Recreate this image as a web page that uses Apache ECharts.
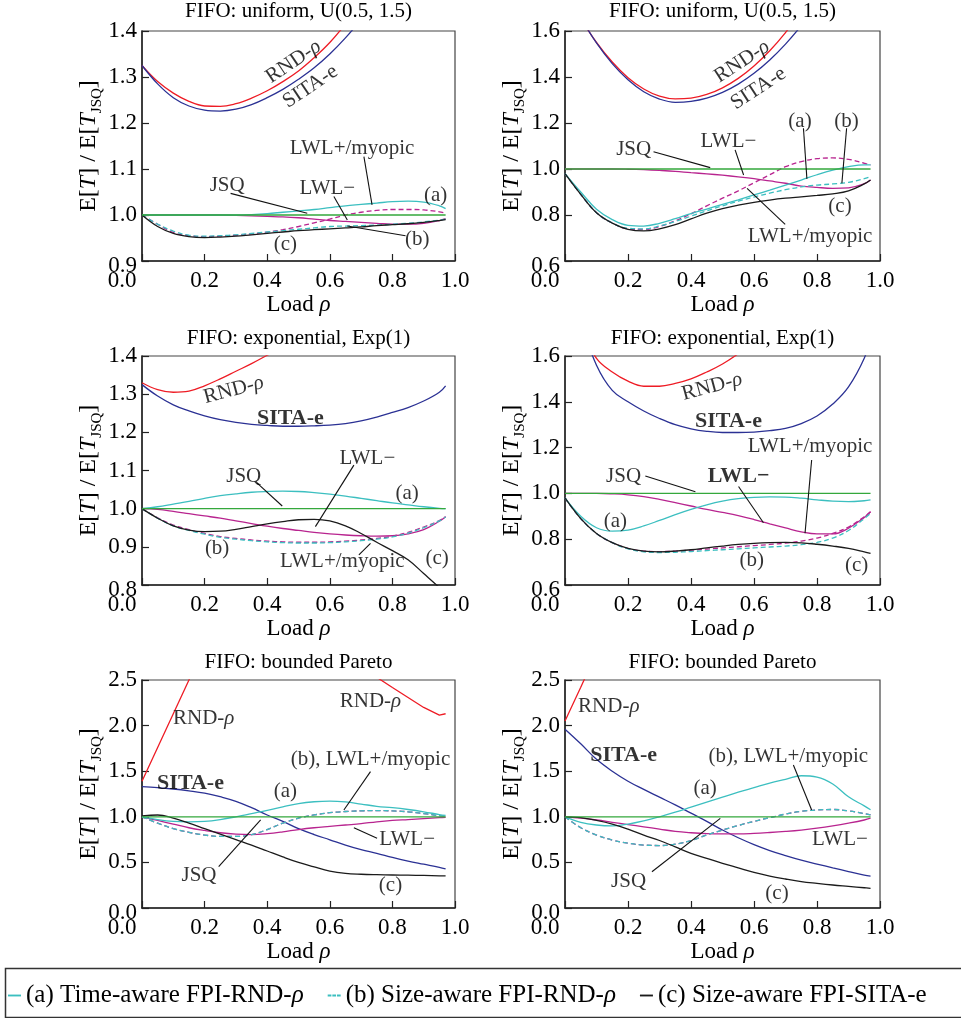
<!DOCTYPE html>
<html>
<head>
<meta charset="utf-8">
<title>FIFO: E[T] / E[T_JSQ] against load</title>
<script src="https://cdn.jsdelivr.net/npm/echarts/dist/echarts.min.js"></script>
<style>
  html, body { margin: 0; padding: 0; background: #fff; }
  #main { width: 961px; height: 1018px; }
</style>
</head>
<body>
<div id="main"></div>
<script>
// load rho, shared x values of every curve
var loads = [0, 0.05, 0.1, 0.15, 0.2, 0.25, 0.3, 0.35, 0.4, 0.45, 0.5, 0.55, 0.6, 0.65, 0.7, 0.75, 0.8, 0.85, 0.9, 0.95, 0.97];
var jsq = [1, 1, 1, 1, 1, 1, 1, 1, 1, 1, 1, 1, 1, 1, 1, 1, 1, 1, 1, 1, 1];

// panel 1: uniform (left)
var rnd1  = [1.325, 1.29, 1.265, 1.247, 1.237, 1.236, 1.242, 1.254, 1.27, 1.29, 1.313, 1.342, 1.375, 1.415, 1.46, null, null, null, null, null, null];
var sita1 = [1.325, 1.285, 1.255, 1.237, 1.228, 1.226, 1.23, 1.24, 1.255, 1.273, 1.295, 1.32, 1.35, 1.385, 1.425, 1.47, null, null, null, null, null];
var lwlm1 = [1, 1, 1, 1, 1, 1, 0.999, 0.998, 0.997, 0.996, 0.994, 0.991, 0.988, 0.986, 0.984, 0.982, 0.98, 0.98, 0.982, 0.988, 0.992];
var lwlp1 = [1, 0.98, 0.962, 0.955, 0.953, 0.954, 0.956, 0.959, 0.963, 0.968, 0.975, 0.983, 0.991, 1, 1.006, 1.01, 1.012, 1.012, 1.011, 1.007, 1.004];
var fpiA1 = [1, 1, 1, 1, 1, 1, 1, 1.001, 1.003, 1.006, 1.009, 1.012, 1.016, 1.02, 1.023, 1.026, 1.029, 1.03, 1.028, 1.02, 1.014];
var fpiB1 = [1, 0.98, 0.965, 0.956, 0.954, 0.955, 0.957, 0.96, 0.963, 0.966, 0.969, 0.972, 0.975, 0.976, 0.977, 0.978, 0.98, 0.982, 0.985, 0.989, 0.991];
var fpiC1 = [1, 0.975, 0.96, 0.953, 0.951, 0.952, 0.954, 0.957, 0.96, 0.963, 0.966, 0.968, 0.97, 0.972, 0.974, 0.977, 0.979, 0.981, 0.984, 0.988, 0.99];

// panel 2: uniform (right)
var rnd2  = [null, 1.654, 1.55, 1.465, 1.397, 1.348, 1.317, 1.305, 1.308, 1.324, 1.353, 1.394, 1.448, 1.514, 1.593, 1.684, null, null, null, null, null];
var sita2 = [null, 1.657, 1.548, 1.458, 1.388, 1.336, 1.304, 1.29, 1.294, 1.308, 1.333, 1.369, 1.416, 1.474, 1.543, 1.623, null, null, null, null, null];
var lwlm2 = [1, 1, 1, 1, 0.999, 0.997, 0.994, 0.99, 0.984, 0.979, 0.973, 0.966, 0.958, 0.948, 0.938, 0.926, 0.92, 0.916, 0.918, 0.936, 0.952];
var lwlp2 = [0.98, 0.89, 0.81, 0.765, 0.74, 0.737, 0.75, 0.775, 0.805, 0.84, 0.873, 0.905, 0.94, 0.975, 1.01, 1.032, 1.045, 1.048, 1.042, 1.025, 1.018];
var fpiA2 = [0.98, 0.9, 0.825, 0.78, 0.755, 0.752, 0.764, 0.784, 0.806, 0.826, 0.846, 0.866, 0.887, 0.908, 0.93, 0.952, 0.975, 0.995, 1.01, 1.018, 1.018];
var fpiB2 = [0.98, 0.89, 0.81, 0.765, 0.742, 0.74, 0.752, 0.772, 0.795, 0.818, 0.84, 0.86, 0.878, 0.895, 0.91, 0.922, 0.93, 0.935, 0.942, 0.958, 0.967];
var fpiC2 = [0.98, 0.89, 0.81, 0.765, 0.738, 0.731, 0.74, 0.758, 0.783, 0.808, 0.828, 0.843, 0.855, 0.865, 0.873, 0.879, 0.885, 0.892, 0.905, 0.935, 0.952];

// panel 3: exponential (left)
var rnd3  = [1.33, 1.312, 1.305, 1.308, 1.322, 1.34, 1.36, 1.38, 1.402, 1.425, null, null, null, null, null, null, null, null, null, null, null];
var sita3 = [1.325, 1.295, 1.272, 1.256, 1.243, 1.233, 1.226, 1.221, 1.218, 1.216, 1.216, 1.217, 1.219, 1.223, 1.23, 1.24, 1.252, 1.265, 1.282, 1.305, 1.322];
var lwlm3 = [1, 0.998, 0.993, 0.987, 0.981, 0.975, 0.968, 0.961, 0.954, 0.948, 0.943, 0.938, 0.934, 0.931, 0.929, 0.928, 0.929, 0.934, 0.945, 0.967, 0.979];
var lwlp3 = [1, 0.976, 0.957, 0.945, 0.935, 0.927, 0.922, 0.918, 0.915, 0.913, 0.912, 0.912, 0.913, 0.915, 0.918, 0.922, 0.928, 0.938, 0.952, 0.969, 0.979];
var fpiA3 = [1, 1.005, 1.012, 1.019, 1.027, 1.034, 1.039, 1.043, 1.045, 1.046, 1.045, 1.042, 1.038, 1.033, 1.027, 1.021, 1.015, 1.01, 1.005, 1.001, 1];
var fpiB3 = [1, 0.975, 0.955, 0.943, 0.933, 0.925, 0.92, 0.916, 0.913, 0.911, 0.91, 0.91, 0.911, 0.913, 0.916, 0.92, 0.926, 0.936, 0.95, 0.968, 0.978];
var fpiC3 = [1, 0.975, 0.955, 0.944, 0.94, 0.941, 0.946, 0.953, 0.96, 0.966, 0.971, 0.972, 0.968, 0.955, 0.935, 0.912, 0.89, 0.866, 0.83, 0.793, 0.775];

// panel 4: exponential (right)
var rnd4  = [null, 1.72, 1.59, 1.53, 1.49, 1.468, 1.468, 1.48, 1.5, 1.53, 1.565, 1.61, null, null, null, null, null, null, null, null, null];
var sita4 = [null, 1.75, 1.56, 1.45, 1.4, 1.36, 1.327, 1.3, 1.282, 1.271, 1.266, 1.266, 1.268, 1.274, 1.284, 1.305, 1.338, 1.39, 1.465, 1.59, 1.68];
var lwlm4 = [1, 1, 1, 0.998, 0.994, 0.986, 0.974, 0.96, 0.945, 0.93, 0.917, 0.903, 0.886, 0.867, 0.849, 0.832, 0.823, 0.823, 0.848, 0.895, 0.92];
var lwlp4 = [0.98, 0.89, 0.825, 0.785, 0.76, 0.748, 0.746, 0.748, 0.752, 0.757, 0.762, 0.767, 0.772, 0.777, 0.783, 0.792, 0.805, 0.825, 0.853, 0.898, 0.92];
var fpiA4 = [0.98, 0.9, 0.85, 0.835, 0.84, 0.858, 0.882, 0.907, 0.93, 0.95, 0.966, 0.977, 0.983, 0.985, 0.984, 0.979, 0.972, 0.966, 0.964, 0.968, 0.972];
var fpiB4 = [0.98, 0.89, 0.825, 0.785, 0.758, 0.745, 0.742, 0.743, 0.746, 0.75, 0.754, 0.758, 0.762, 0.766, 0.77, 0.776, 0.786, 0.805, 0.838, 0.89, 0.913];
var fpiC4 = [0.98, 0.89, 0.825, 0.785, 0.76, 0.748, 0.745, 0.748, 0.754, 0.762, 0.77, 0.777, 0.782, 0.785, 0.786, 0.784, 0.778, 0.77, 0.76, 0.745, 0.738];

// panel 5: bounded Pareto (left)
var rnd5  = [1.39, 1.76, 2.13, 2.5, 2.87, null, null, null, null, null, null, null, null, null, 2.64, 2.53, 2.417, 2.308, 2.199, 2.115, 2.13];
var sita5 = [1.33, 1.32, 1.305, 1.285, 1.26, 1.22, 1.17, 1.1, 1.02, 0.95, 0.87, 0.805, 0.748, 0.69, 0.64, 0.6, 0.555, 0.515, 0.48, 0.445, 0.428];
var lwlm5 = [1, 0.96, 0.92, 0.88, 0.85, 0.825, 0.81, 0.805, 0.815, 0.835, 0.86, 0.88, 0.895, 0.91, 0.925, 0.945, 0.96, 0.97, 0.98, 0.99, 0.995];
var lwlp5 = [1, 0.93, 0.87, 0.83, 0.8, 0.785, 0.785, 0.805, 0.86, 0.93, 0.985, 1.02, 1.045, 1.058, 1.065, 1.068, 1.065, 1.055, 1.035, 1.012, 1.005];
var fpiA5 = [1, 0.97, 0.95, 0.945, 0.95, 0.97, 1, 1.035, 1.07, 1.11, 1.145, 1.165, 1.172, 1.163, 1.14, 1.115, 1.1, 1.08, 1.055, 1.025, 1.015];
var fpiB5 = [1, 0.93, 0.87, 0.83, 0.8, 0.785, 0.785, 0.805, 0.86, 0.93, 0.985, 1.02, 1.045, 1.058, 1.065, 1.068, 1.065, 1.055, 1.035, 1.012, 1.005];
var fpiC5 = [1.01, 1.02, 0.985, 0.93, 0.87, 0.81, 0.75, 0.69, 0.625, 0.56, 0.5, 0.45, 0.405, 0.38, 0.37, 0.365, 0.362, 0.36, 0.357, 0.353, 0.352];

// panel 6: bounded Pareto (right)
var rnd6  = [2.05, 2.42, 2.8, null, null, null, null, null, null, null, null, null, null, null, null, null, null, null, null, null, null];
var sita6 = [1.96, 1.8, 1.63, 1.5, 1.39, 1.3, 1.215, 1.13, 1.04, 0.95, 0.855, 0.77, 0.695, 0.63, 0.575, 0.525, 0.482, 0.44, 0.4, 0.36, 0.35];
var lwlm6 = [1, 0.985, 0.965, 0.94, 0.915, 0.89, 0.865, 0.84, 0.825, 0.815, 0.812, 0.812, 0.818, 0.828, 0.84, 0.855, 0.875, 0.9, 0.93, 0.965, 0.985];
var lwlp6 = [1, 0.88, 0.8, 0.745, 0.71, 0.69, 0.685, 0.7, 0.74, 0.8, 0.855, 0.905, 0.95, 0.99, 1.03, 1.06, 1.075, 1.08, 1.065, 1.035, 1.02];
var fpiA6 = [1, 0.94, 0.91, 0.9, 0.92, 0.955, 1, 1.05, 1.105, 1.16, 1.215, 1.27, 1.32, 1.37, 1.41, 1.45, 1.435, 1.36, 1.22, 1.12, 1.078];
var fpiB6 = [1, 0.88, 0.8, 0.745, 0.71, 0.69, 0.685, 0.7, 0.74, 0.8, 0.855, 0.905, 0.95, 0.99, 1.03, 1.06, 1.075, 1.08, 1.065, 1.035, 1.02];
var fpiC6 = [1, 0.99, 0.96, 0.92, 0.865, 0.8, 0.74, 0.67, 0.6, 0.545, 0.49, 0.44, 0.39, 0.35, 0.318, 0.29, 0.27, 0.252, 0.237, 0.222, 0.216];

// y axis ranges [min, max, step]
var yRanges = [[0.9, 1.4, 0.1], [0.6, 1.6, 0.2], [0.8, 1.4, 0.1], [0.6, 1.6, 0.2], [0, 2.5, 0.5], [0, 2.5, 0.5]];
var titles = ['FIFO: uniform, U(0.5, 1.5)', 'FIFO: uniform, U(0.5, 1.5)', 'FIFO: exponential, Exp(1)',
              'FIFO: exponential, Exp(1)', 'FIFO: bounded Pareto', 'FIFO: bounded Pareto'];
var legendNames = ['(a) Time-aware FPI-RND-ρ', '(b) Size-aware FPI-RND-ρ', '(c) Size-aware FPI-SITA-e'];

// curve labels: text, x, y, rotation, bold
var labels1 = [['RND-ρ', 0.484, 1.333, 34], ['SITA-e', 0.538, 1.279, 34], ['LWL+/myopic', 0.671, 1.145], ['JSQ', 0.272, 1.065],
               ['LWL−', 0.592, 1.058], ['(a)', 0.938, 1.043], ['(b)', 0.879, 0.946], ['(c)', 0.458, 0.935]];
var labels2 = [['RND-ρ', 0.562, 1.467, 33], ['SITA-e', 0.614, 1.35, 33], ['(a)', 0.746, 1.206], ['(b)', 0.894, 1.206],
               ['JSQ', 0.218, 1.083], ['LWL−', 0.519, 1.119], ['(c)', 0.873, 0.836], ['LWL+/myopic', 0.778, 0.706]];
var labels3 = [['RND-ρ', 0.293, 1.311, 15], ['SITA-e', 0.474, 1.237, 0, true], ['JSQ', 0.325, 1.084], ['LWL−', 0.72, 1.132],
               ['(a)', 0.847, 1.04], ['(b)', 0.24, 0.896], ['LWL+/myopic', 0.64, 0.861], ['(c)', 0.943, 0.87]];
var labels4 = [['RND-ρ', 0.467, 1.466, 15], ['SITA-e', 0.519, 1.313, 0, true], ['LWL+/myopic', 0.778, 1.204], ['JSQ', 0.186, 1.073],
               ['LWL−', 0.551, 1.073, 0, true], ['(a)', 0.16, 0.876], ['(b)', 0.593, 0.709], ['(c)', 0.926, 0.687]];
var labels5 = [['RND-ρ', 0.197, 2.08], ['RND-ρ', 0.73, 2.262], ['SITA-e', 0.155, 1.367, 0, true], ['(b), LWL+/myopic', 0.73, 1.623],
               ['(a)', 0.458, 1.275], ['LWL−', 0.847, 0.746], ['JSQ', 0.182, 0.362], ['(c)', 0.794, 0.252]];
var labels6 = [['RND-ρ', 0.139, 2.207], ['SITA-e', 0.186, 1.678, 0, true], ['(b), LWL+/myopic', 0.709, 1.659], ['(a)', 0.445, 1.312],
               ['LWL−', 0.873, 0.746], ['JSQ', 0.202, 0.288], ['(c)', 0.673, 0.161]];

// leader lines: x1, y1, x2, y2
var leaders1 = [[0.709, 1.127, 0.735, 1.022], [0.283, 1.047, 0.528, 1.004], [0.613, 1.04, 0.656, 0.989], [0.842, 0.955, 0.656, 0.976]];
var leaders2 = [[0.757, 1.177, 0.768, 0.957], [0.894, 1.177, 0.879, 0.938], [0.281, 1.075, 0.461, 1.006], [0.54, 1.083, 0.567, 0.974], [0.699, 0.759, 0.578, 0.916]];
var leaders3 = [[0.368, 1.067, 0.448, 1.007], [0.677, 1.114, 0.554, 0.953], [0.693, 0.879, 0.73, 0.909]];
var leaders4 = [[0.783, 1.146, 0.762, 0.826], [0.255, 1.076, 0.414, 1.007], [0.551, 1.03, 0.63, 0.872]];
var leaders5 = [[0.73, 1.495, 0.645, 1.075], [0.751, 0.764, 0.677, 0.881], [0.245, 0.453, 0.379, 0.965]];
var leaders6 = [[0.725, 1.568, 0.783, 1.075], [0.276, 0.398, 0.493, 0.983]];

var FONT = 'Liberation Serif';
var INK = '#000';
var COL = { rnd: '#ee1c25', sita: '#2b3194', jsq: '#34a83c', lwl: '#b8248f', teal: '#3cbfc0', black: '#1b1b1b' };

var panels = [
  [rnd1, sita1, lwlm1, lwlp1, fpiA1, fpiB1, fpiC1, labels1, leaders1],
  [rnd2, sita2, lwlm2, lwlp2, fpiA2, fpiB2, fpiC2, labels2, leaders2],
  [rnd3, sita3, lwlm3, lwlp3, fpiA3, fpiB3, fpiC3, labels3, leaders3],
  [rnd4, sita4, lwlm4, lwlp4, fpiA4, fpiB4, fpiC4, labels4, leaders4],
  [rnd5, sita5, lwlm5, lwlp5, fpiA5, fpiB5, fpiC5, labels5, leaders5],
  [rnd6, sita6, lwlm6, lwlp6, fpiA6, fpiB6, fpiC6, labels6, leaders6]
];
// grid boxes: left, top, width, height
var boxes = [[142, 31, 313, 230], [565, 31, 315, 230], [142, 356, 313, 229],
             [565, 356, 315, 229], [142, 680, 313, 228], [565, 680, 315, 228]];
var titleTops = [1, 1, 328, 328, 652, 652];

function pts(arr) {
  return loads.map(function (x, i) { return [x, arr[i] == null ? NaN : arr[i]]; });
}

// turn "RND-ρ" into rich text with an italic rho
function rt(s, bold) {
  var key = bold ? 'b' : 'n';
  return s.split('ρ').map(function (p) { return p ? '{' + key + '|' + p + '}' : ''; }).join('{i|ρ}');
}

var rich21 = {
  n: { fontFamily: FONT, fontSize: 21, color: INK },
  b: { fontFamily: FONT, fontSize: 22, color: INK, fontWeight: 'bold' },
  i: { fontFamily: FONT, fontSize: 21, color: INK, fontStyle: 'italic' }
};

var grids = [], xAxes = [], yAxes = [], titleList = [], series = [];

panels.forEach(function (p, k) {
  var b = boxes[k], yr = yRanges[k];
  grids.push({ left: b[0], top: b[1], width: b[2], height: b[3], show: true,
               borderColor: '#444', borderWidth: 1.2, backgroundColor: 'transparent' });
  titleList.push({ text: titles[k], left: b[0] + b[2] / 2, top: titleTops[k], textAlign: 'center', padding: 0,
                   textStyle: { fontFamily: FONT, fontSize: 21, fontWeight: 'normal', color: INK } });
  xAxes.push({
    type: 'value', gridIndex: k, min: 0, max: 1, interval: 0.2,
    name: '{n|Load }{i|ρ}', nameLocation: 'middle', nameGap: 32,
    nameTextStyle: { rich: {
      n: { fontFamily: FONT, fontSize: 23, color: INK },
      i: { fontFamily: FONT, fontSize: 23, color: INK, fontStyle: 'italic' } } },
    axisLine: { show: true, lineStyle: { color: '#222', width: 1.5 } },
    axisTick: { show: true, inside: true, length: 7, lineStyle: { color: '#222', width: 1.2 } },
    splitLine: { show: false },
    axisLabel: {
      margin: 8, fontFamily: FONT, fontSize: 23, color: INK,
      formatter: function (v) { return v === 0 ? '{z|0.0}' : v.toFixed(1); },
      rich: { z: { fontFamily: FONT, fontSize: 23, color: INK, padding: [0, 40, 0, 0] } }
    }
  });
  yAxes.push({
    type: 'value', gridIndex: k, min: yr[0], max: yr[1], interval: yr[2],
    name: '{n|E[}{i|T}{n|] / E[}{i|T}{s|JSQ}{n|]}', nameLocation: 'middle', nameGap: 28, nameRotate: 90,
    nameTextStyle: { rich: {
      n: { fontFamily: FONT, fontSize: 24, color: INK, lineHeight: 32 },
      i: { fontFamily: FONT, fontSize: 24, color: INK, fontStyle: 'italic', lineHeight: 32 },
      s: { fontFamily: FONT, fontSize: 15, color: INK, lineHeight: 32, verticalAlign: 'bottom' } } },
    axisLine: { show: true, lineStyle: { color: '#222', width: 1.5 } },
    axisTick: { show: true, inside: true, length: 7, lineStyle: { color: '#222', width: 1.2 } },
    splitLine: { show: false },
    axisLabel: {
      margin: 5, fontFamily: FONT, fontSize: 23, color: INK,
      formatter: function (v) { return Math.abs(v - yr[0]) < 1e-9 ? '{lo|' + v.toFixed(1) + '}' : v.toFixed(1); },
      rich: { lo: { fontFamily: FONT, fontSize: 23, color: INK, padding: [10, 0, 0, 0] } }
    }
  });

  function curve(name, arr, color, dashed, smooth) {
    return {
      type: 'line', name: name, xAxisIndex: k, yAxisIndex: k, data: pts(arr),
      symbol: 'none', showSymbol: false, smooth: smooth === false ? false : 0.4,
      connectNulls: false, silent: true, animation: false, z: 2,
      lineStyle: { color: color, width: 1.3, type: dashed ? [5, 3] : 'solid' },
      itemStyle: { color: color }
    };
  }
  var smoothRed = k < 4;
  series.push(curve('RND-ρ', p[0], COL.rnd, false, smoothRed));
  series.push(curve('SITA-e', p[1], COL.sita, false));
  series.push(curve('LWL+/myopic', p[3], COL.lwl, true));
  series.push(curve('LWL−', p[2], COL.lwl, false));
  series.push(curve(legendNames[1], p[5], COL.teal, true));
  series.push(curve(legendNames[0], p[4], COL.teal, false));
  series.push(curve(legendNames[2], p[6], COL.black, false));
  series.push(curve('JSQ', jsq, COL.jsq, false));

  p[8].forEach(function (l) {
    series.push({
      type: 'line', name: 'leader', xAxisIndex: k, yAxisIndex: k, data: [[l[0], l[1]], [l[2], l[3]]],
      symbol: 'none', silent: true, animation: false, z: 4,
      lineStyle: { color: '#111', width: 1.1 }
    });
  });

  series.push({
    type: 'scatter', name: 'labels', xAxisIndex: k, yAxisIndex: k, symbolSize: 0, silent: true, animation: false, z: 5,
    label: { show: true, position: 'inside', rich: rich21 },
    data: p[7].map(function (l) {
      return { value: [l[1], l[2]],
               label: { show: true, position: 'inside', rotate: l[3] || 0, formatter: rt(l[0], l[4]), rich: rich21 } };
    })
  });
});

var solidIcon = 'path://M0,0H14V2H0Z';
var dashIcon = 'path://M0,0H4V2H0Z M5,0H9V2H5Z M10,0H14V2H10Z';

var chart = echarts.init(document.getElementById('main'), null, { renderer: 'canvas' });
chart.setOption({
  animation: false,
  backgroundColor: '#fff',
  title: titleList,
  grid: grids,
  xAxis: xAxes,
  yAxis: yAxes,
  legend: {
    data: [{ name: legendNames[0], icon: solidIcon }, { name: legendNames[1], icon: dashIcon },
           { name: legendNames[2], icon: solidIcon }],
    left: 8, top: 983, padding: 0, itemWidth: 13, itemHeight: 2, itemGap: 24,
    selectedMode: false,
    textStyle: { fontFamily: FONT, fontSize: 25, color: INK,
      rich: {
        n: { fontFamily: FONT, fontSize: 25, color: INK, lineHeight: 30 },
        i: { fontFamily: FONT, fontSize: 25, color: INK, fontStyle: 'italic', lineHeight: 30 } } },
    formatter: function (name) { return rt(name, false); }
  },
  graphic: [{
    type: 'rect', left: 3, top: 966, silent: true,
    shape: { width: 975, height: 49 },
    style: { fill: 'none', stroke: '#333', lineWidth: 1.5 }
  }],
  series: series
});
</script>
</body>
</html>
